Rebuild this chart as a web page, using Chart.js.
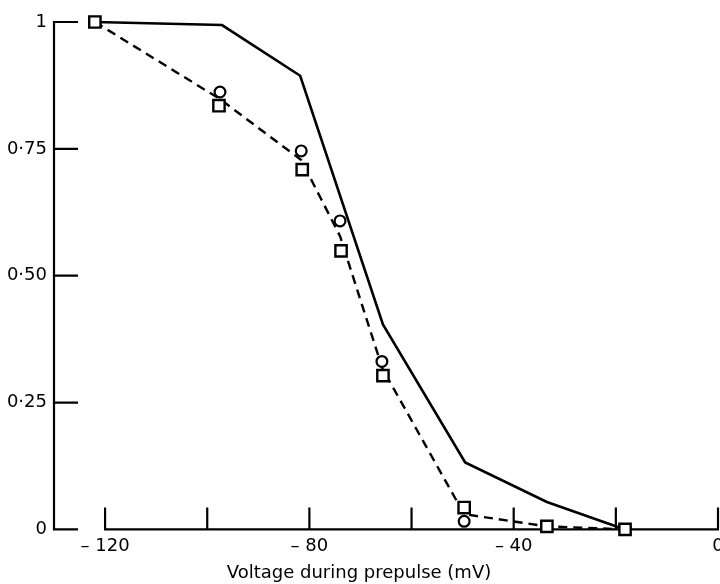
<!DOCTYPE html>
<html lang="en">
<head>
  <meta charset="UTF-8">
  <title>Voltage during prepulse</title>
  <script src="https://cdn.jsdelivr.net/npm/chart.js"></script>
  <style>
    body { margin: 0; background: #fff; overflow: hidden; }
    #wrap { width: 720px; height: 584px; }
  </style>
</head>
<body>
  <div id="wrap"><canvas id="prepulseChart"></canvas></div>

  <script>
    // values (mV, fraction)
    const solidV  = [-122, -97.1, -81.8, -65.6, -49.5, -33.5, -18.2];
    const solidY  = [1.0, 0.994, 0.894, 0.404, 0.132, 0.054, 0];
    const dashedV = [-122, -97.5, -81.6, -74.0, -65.7, -49.7, -33.5, -18.2];
    const dashedY = [1.0, 0.848, 0.728, 0.578, 0.317, 0.03, 0.006, 0];
    const circleV = [-97.5, -81.6, -74.0, -65.8, -49.7];
    const circleY = [0.862, 0.746, 0.608, 0.331, 0.016];
    const squareV = [-122, -97.7, -81.4, -73.8, -65.6, -49.7, -33.5, -18.2];
    const squareY = [1.0, 0.835, 0.709, 0.549, 0.303, 0.043, 0.006, 0];

    const xTicks   = [-120, -100, -80, -60, -40, -20, 0];
    const xLabeled = [-120, -80, -40, 0];
    const yTicks   = [0, 0.25, 0.5, 0.75, 1];

    const pts = (xs, ys) => xs.map((x, i) => ({ x: x, y: ys[i] }));
    const xLabel = v => v === 0 ? '0' : '\u2013 ' + Math.abs(v);

    // axis lines, inward tick marks and x labels, placed with the chart's own scales
    const frame = {
      id: 'frame',
      beforeDatasetsDraw(chart) {
        const ctx = chart.ctx, xs = chart.scales.x, ys = chart.scales.y;
        const a = chart.chartArea;
        ctx.save();
        ctx.strokeStyle = '#000';
        ctx.lineWidth = 2.2;
        ctx.beginPath();
        ctx.moveTo(a.left, ys.getPixelForValue(1) - 1);
        ctx.lineTo(a.left, ys.getPixelForValue(0) + 1);
        yTicks.forEach(v => {
          const py = ys.getPixelForValue(v);
          ctx.moveTo(a.left, py);
          ctx.lineTo(a.left + 24, py);
        });
        const by = ys.getPixelForValue(0);
        ctx.moveTo(xs.getPixelForValue(xTicks[0]) - 1, by);
        ctx.lineTo(xs.getPixelForValue(0) + 1, by);
        xTicks.forEach(v => {
          const px = xs.getPixelForValue(v);
          ctx.moveTo(px, by);
          ctx.lineTo(px, by - 22);
        });
        ctx.stroke();

        ctx.fillStyle = '#000';
        ctx.font = '18px "DejaVu Sans"';
        ctx.textAlign = 'center';
        ctx.textBaseline = 'top';
        xLabeled.forEach(v => {
          ctx.fillText(xLabel(v), xs.getPixelForValue(v), by + 8);
        });
        ctx.restore();
      }
    };

    new Chart(document.getElementById('prepulseChart'), {
      type: 'scatter',
      data: {
        datasets: [
          {
            data: pts(squareV, squareY),
            pointStyle: 'rect', pointRadius: 8, pointBorderWidth: 2.4,
            borderColor: '#000', backgroundColor: '#fff', showLine: false, clip: false
          },
          {
            data: pts(circleV, circleY),
            pointStyle: 'circle', pointRadius: 5.4, pointBorderWidth: 2.2,
            borderColor: '#000', backgroundColor: '#fff', showLine: false, clip: false
          },
          {
            data: pts(dashedV, dashedY),
            showLine: true, pointRadius: 0, borderColor: '#000', borderWidth: 2.4,
            borderDash: [9, 6], tension: 0, clip: false
          },
          {
            data: pts(solidV, solidY),
            showLine: true, pointRadius: 0, borderColor: '#000', borderWidth: 2.6,
            tension: 0, clip: false
          }
        ]
      },
      options: {
        responsive: true,
        maintainAspectRatio: false,
        animation: false,
        layout: { autoPadding: false, padding: { top: 22, right: 2, left: 0, bottom: 0 } },
        plugins: {
          legend: { display: false },
          tooltip: { enabled: false },
          title: {
            display: true,
            position: 'bottom',
            text: 'Voltage during prepulse (mV)',
            color: '#000',
            font: { family: 'DejaVu Sans', size: 18, weight: 'normal' },
            padding: { top: 0, bottom: 0 }
          }
        },
        scales: {
          x: {
            type: 'linear', min: -130, max: 0,
            grid: { display: false, drawTicks: false },
            border: { display: false },
            ticks: { display: false },
            afterFit: s => { s.height = 33; }
          },
          y: {
            type: 'linear', min: 0, max: 1,
            grid: { display: false, drawTicks: false },
            border: { display: false },
            afterBuildTicks: s => { s.ticks = yTicks.map(v => ({ value: v })); },
            afterFit: s => { s.width = 54; },
            ticks: {
              color: '#000', font: { family: 'DejaVu Sans', size: 18 },
              padding: 7, autoSkip: false,
              callback: v => (v === 0 || v === 1) ? String(v) : v.toFixed(2).replace('.', '\u00b7')
            }
          }
        }
      },
      plugins: [frame]
    });
  </script>
</body>
</html>
